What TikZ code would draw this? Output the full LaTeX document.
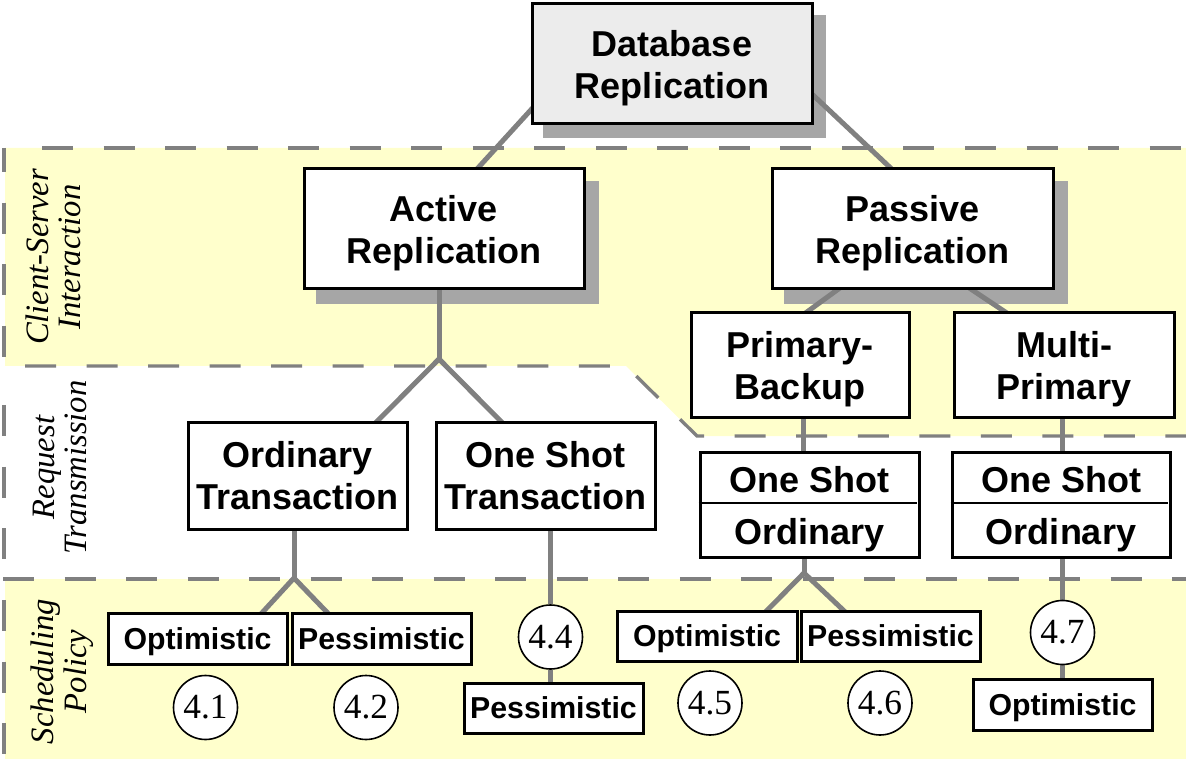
\documentclass[tikz,border=0pt]{standalone}
\usepackage{fontspec}
\setmainfont{Liberation Serif}
\setsansfont{Liberation Sans}
\usetikzlibrary{calc}
\pgfdeclarelayer{bands}
\pgfdeclarelayer{shadows}
\pgfdeclarelayer{links}
\pgfsetlayers{bands,shadows,links,main}
\definecolor{bandyellow}{RGB}{255,255,204}
\definecolor{linegray}{RGB}{128,128,128}
\definecolor{shadowgray}{RGB}{166,166,166}
\definecolor{dbfill}{RGB}{236,236,236}
\newcommand{\nodesc}[1]{\raisebox{0pt}[\height][0pt]{#1}}
\begin{document}
\begin{tikzpicture}[x=0.75pt,y=-0.75pt,
  bandline/.style={draw=linegray,line width=2.5pt,dash pattern=on 23.25pt off 22.9pt},
  conn/.style={draw=linegray,line width=3.75pt},
  box/.style={draw=black,line width=2.25pt,fill=white,inner sep=0pt,align=center,
    font=\sffamily\bfseries\fontsize{27}{31.5}\selectfont},
  bigtext/.style={inner sep=0pt,anchor=base,font=\sffamily\bfseries\fontsize{27}{31.5}\selectfont},
  small/.style={draw=black,line width=2.25pt,fill=white,inner sep=0pt,
    font=\sffamily\bfseries\fontsize{22.7}{26}\selectfont,text height=15.75pt,text depth=0pt},
  num/.style={circle,draw=black,line width=1.2pt,fill=white,minimum size=48pt,inner sep=0pt,
    font=\fontsize{26.5}{26.5}\selectfont},
  bandlabel/.style={rotate=90,align=center,inner sep=0pt,
    font=\itshape\fontsize{24.5}{24.5}\selectfont},
  divider/.style={draw=black,line width=1.1pt}]
\useasboundingbox (0,0) rectangle (1186,759);

% ---- boxes ----
\node[box,fill=dbfill,minimum width=210pt,minimum height=90pt] (db) at (672,64) {Database\\\nodesc{Replication}};
\node[box,minimum width=210pt,minimum height=90pt] (act) at (444,229) {Active\\\nodesc{Replication}};
\node[box,minimum width=210.75pt,minimum height=90pt] (pas) at (912.5,229) {Passive\\\nodesc{Replication}};
\node[box,minimum width=163.5pt,minimum height=78.75pt] (pb) at (800,365.5) {Primary-\\\nodesc{Backup}};
\node[box,minimum width=165pt,minimum height=78.75pt] (mp) at (1064,365.5) {Multi-\\\nodesc{Primary}};
\node[box,minimum width=164.25pt,minimum height=79.5pt] (ord) at (297.5,476) {Ordinary\\Transaction};
\node[box,minimum width=164.25pt,minimum height=79.5pt] (ost) at (545.5,476) {One Shot\\Transaction};
\node[box,minimum width=164.25pt,minimum height=78.75pt] (sa) at (809.5,504.5) {};
\node[box,minimum width=163.5pt,minimum height=78.75pt] (sb) at (1061,504.5) {};
\node[bigtext] (sa1) at (809.5,492) {One Shot};
\node[bigtext] (sa2) at (809.5,544) {Ordinary};
\node[bigtext] (sb1) at (1061,492) {One Shot};
\node[bigtext] (sb2) at (1061,544) {Ordinary};
\draw[divider] ($(sa.west)+(0,-1.5)$) -- ($(sa.east)+(-4,-1.5)$);
\draw[divider] ($(sb.west)+(0,-1.5)$) -- ($(sb.east)+(-4,-1.5)$);

\node[small,minimum width=134.25pt,minimum height=38.25pt] (o1) at (197.5,638.5) {Optimistic};
\node[small,minimum width=134.25pt,minimum height=38.25pt] (p1) at (381.5,638.5) {Pessimistic};
\node[small,minimum width=134.25pt,minimum height=37.5pt] (p2) at (553.5,708) {Pessimistic};
\node[small,minimum width=135pt,minimum height=37.5pt] (o3) at (707,636) {Optimistic};
\node[small,minimum width=134.25pt,minimum height=37.5pt] (p3) at (890.5,636) {Pessimistic};
\node[small,minimum width=134.25pt,minimum height=38.25pt] (o4) at (1062.5,704.5) {Optimistic};

\node[num] (c41) at (205.5,707.5) {4.1};
\node[num] (c42) at (366,707.5) {4.2};
\node[num] (c44) at (550.5,637) {4.4};
\node[num] (c45) at (710,703) {4.5};
\node[num] (c46) at (880,703) {4.6};
\node[num] (c47) at (1062.5,632.5) {4.7};

% ---- bands ----
\begin{pgfonlayer}{bands}
\fill[bandyellow] (5,148) -- (1186,148) -- (1186,436) -- (697,436) -- (626,366) -- (5,366) -- cycle;
\fill[bandyellow] (5,579) rectangle (1186,759);
\draw[bandline] (42,148) -- (1186,148);
\draw[bandline] (25,366) -- (626,366) -- (697,436) -- (1186,436);
\draw[bandline] (3,579) -- (1186,579);
\draw[bandline,dash phase=5.25pt] (4,148) -- (4,366);
\draw[bandline] (4,405) -- (4,579);
\draw[bandline] (4,600) -- (4,759);
\node[bandlabel] (lab1) at (53.5,257) {Client-Server\\Interaction};
\node[bandlabel] (lab2) at (60,467.5) {Request\\Transmission};
\node[bandlabel] (lab3) at (62,671.5) {Scheduling\\Policy};
\end{pgfonlayer}

% ---- shadows ----
\begin{pgfonlayer}{shadows}
\fill[shadowgray] ($(db.south west)+(12,13)$) rectangle ($(db.north east)+(12,13)$);
\fill[shadowgray] ($(act.south west)+(13,14)$) rectangle ($(act.north east)+(13,14)$);
\fill[shadowgray] ($(pas.south west)+(13,14)$) rectangle ($(pas.north east)+(13,14)$);
\end{pgfonlayer}

% ---- connectors ----
\begin{pgfonlayer}{links}
\coordinate (j1) at (439,359);
\coordinate (j2) at (294,578);
\coordinate (j3) at (804,573);
\draw[conn] ($(act.north)+(28,7)$) -- ($(db.center)+(-123,26)$);
\draw[conn] ($(pas.north)+(-15,7)$) -- ($(db.center)+(125,16)$);
\draw[conn] ($(act.south)+(-5,-5)$) -- (j1);
\draw[conn] ($(ord.north)+(72.5,7)$) -- (j1) -- ($(ost.north)+(-37.5,7)$);
\draw[conn] ($(pas.south)+(-72,-3)$) -- ($(pb.north)+(-2,7)$);
\draw[conn] ($(pas.south)+(56,-3)$) -- ($(mp.north)+(-49,7)$);
\draw[conn] ($(pb.south)+(3,-5)$) -- ($(sa.north)+(-6.5,5)$);
\draw[conn] ($(mp.south)+(-2,-5)$) -- ($(sb.north)+(1,5)$);
\draw[conn] ($(ord.south)+(-3.5,-5)$) -- (j2);
\draw[conn] ($(o1.north)+(59.3,7)$) -- (j2) -- ($(p1.north)+(-48.5,7)$);
\draw[conn] ($(ost.south)+(5,-5)$) -- (c44);
\draw[conn] (c44) -- ($(p2.north)+(-3,5)$);
\draw[conn] ($(sa.south)+(-5.5,-5)$) -- (j3);
\draw[conn] ($(o3.north)+(54,7)$) -- (j3) -- ($(p3.north)+(-40.5,7)$);
\draw[conn] ($(sb.south)+(1.5,-5)$) -- (c47);
\draw[conn] (c47) -- ($(o4.north)+(0,5)$);
\end{pgfonlayer}
\end{tikzpicture}
\end{document}
